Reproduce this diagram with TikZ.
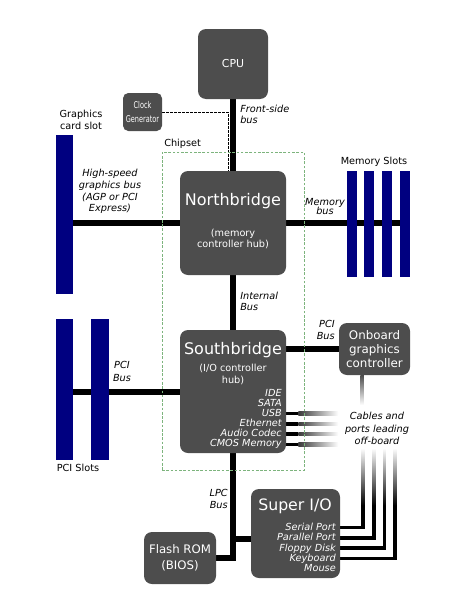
\documentclass[tikz,border=0pt]{standalone}
\usepackage{fontspec}
\setmainfont{DejaVu Sans}
\newfontfamily\condfont[FakeStretch=0.7]{DejaVu Sans}
\definecolor{boxgray}{RGB}{77,77,77}
\definecolor{slotblue}{RGB}{0,0,128}
\definecolor{chipgreen}{RGB}{125,180,125}
\pgfdeclarelayer{bg}
\pgfsetlayers{bg,main}
\begin{document}
\begin{tikzpicture}[x=0.75pt,y=-0.75pt,
 box/.style={fill=boxgray, rounded corners=6pt, inner sep=0pt, text=white},
 slot/.style={fill=slotblue, inner sep=0pt},
 bus/.style={line width=4.5pt},
 cable/.style={line width=2.6pt},
 boxtitle/.style={text=white, inner sep=0pt, font=\fontsize{12}{14}\selectfont},
 boxsub/.style={text=white, inner sep=0pt, align=center, font=\fontsize{7.3}{8.6}\selectfont},
 boxlist/.style={text=white, inner sep=0pt, align=right, font=\fontsize{7.3}{7.5}\selectfont\itshape},
 lbl/.style={inner sep=0pt, align=center, font=\fontsize{7.3}{8.6}\selectfont},
 ilbl/.style={inner sep=0pt, align=center, font=\fontsize{7.3}{8.8}\selectfont\itshape},
]
\useasboundingbox (0,0) rectangle (467,614);

% chipset frame
\node[draw=chipgreen, dashed, line width=0.6pt, dash pattern=on 2pt off 1.2pt, inner sep=0pt,
  minimum width=142*0.75pt, minimum height=318*0.75pt] (chip) at (233,311) {};
\node[lbl, anchor=west] (chiplbl) at (164,144) {Chipset};

% boxes
\node[box, minimum width=70*0.75pt, minimum height=70*0.75pt, font=\fontsize{8.2}{10}\selectfont] (cpu) at (233,64) {CPU};
\node[box, rounded corners=4pt, minimum width=39*0.75pt, minimum height=38*0.75pt, align=center,
  font=\condfont\fontsize{7}{9.8}\selectfont] (clk) at (142.5,112) {Clock\\Generator};
\node[box, minimum width=106*0.75pt, minimum height=104*0.75pt] (nb) at (233,223) {};
\node[box, minimum width=106*0.75pt, minimum height=123*0.75pt] (sb) at (233,391.5) {};
\node[box, minimum width=71*0.75pt, minimum height=52*0.75pt, align=center,
  font=\fontsize{8.9}{10.5}\selectfont] (og) at (374.5,349) {Onboard\\graphics\\controller};
\node[box, minimum width=72*0.75pt, minimum height=52*0.75pt, align=center,
  font=\fontsize{8.8}{12}\selectfont] (flash) at (180,558) {Flash ROM\\(BIOS)};
\node[box, minimum width=89*0.75pt, minimum height=89*0.75pt] (sio) at (295.5,533.5) {};

% slots
\node[slot, minimum width=17*0.75pt, minimum height=159*0.75pt] (gslot) at (64.5,214.5) {};
\foreach \n/\x in {1/352,2/369,3/387,4/404.5}
  \node[slot, minimum width=10*0.75pt, minimum height=106*0.75pt] (mem\n) at (\x,224) {};
\node[slot, minimum width=17*0.75pt, minimum height=141*0.75pt] (pci1) at (64.5,389.5) {};
\node[slot, minimum width=18*0.75pt, minimum height=141*0.75pt] (pci2) at (100,389.5) {};

% buses (behind boxes and slots)
\begin{pgfonlayer}{bg}
\coordinate (clkbend) at (228,112);
\draw[dashed, line width=0.6pt, dash pattern=on 2pt off 1pt] (clk.east) -- (clkbend) -- (clkbend |- nb.north);
\draw[bus] (cpu.south) -- (nb.north);
\draw[bus] (nb.south) -- (sb.north);
\draw[bus] (nb.west) -- (gslot.center |- nb.west);
\draw[bus] (nb.east) -- (mem4.center |- nb.east);
\draw[bus] (sb.west) -- (pci1.center |- sb.west);
\draw[bus] (og.west) -- (og.west -| sb.east);
\draw[bus] (sb.south) -- (sb.south |- flash.east) -- (flash.east);
\draw[bus] (sio.west |- 0,539) -- (sb.south |- 0,539);
% fading cables from southbridge
\foreach \y in {413.5,424,434,444.5} {
  \fill[black] (sb.east |- 0,\y) ++(-2,-1.75) rectangle ++(14,3.5);
  \shade[left color=black, right color=white] (sb.east |- 0,\y) ++(12,-1.75) rectangle ++(40,3.5);
}
% onboard graphics fading line
\shade[top color=boxgray, bottom color=white] (og.south -| 360.25,0) rectangle (363.75,405);
% super I/O cables
\foreach \y/\x in {527.5/363,538/374,548/384.5,558.5/395} {
  \draw[cable] (sio.east |- 0,\y) -- (\x,\y) -- (\x,505);
  \shade[top color=white, bottom color=black] (\x-1.3,448) rectangle (\x+1.3,505.5);
}
\end{pgfonlayer}

% box texts
\node[boxtitle] (nbt) at (233,201) {Northbridge};
\node[boxsub, font=\fontsize{7.3}{8.25}\selectfont] (nbs) at (233,238.5) {(memory\\controller hub)};
\node[boxtitle] (sbt) at (233,350) {Southbridge};
\node[boxsub, font=\fontsize{7.3}{9}\selectfont] (sbs) at (233,374) {(I/O controller\\hub)};
\node[boxlist, anchor=east] (sbl) at (282,419) {IDE\\SATA\\USB\\Ethernet\\Audio Codec\\CMOS Memory};
\node[boxtitle, font=\fontsize{11.8}{14}\selectfont] (siot) at (295,506) {Super I/O};
\node[boxlist, anchor=east, font=\fontsize{7.3}{7.7}\selectfont\itshape] (siol) at (336,547.5) {Serial Port\\Parallel Port\\Floppy Disk\\Keyboard\\Mouse};

% labels
\node[lbl] (gcs) at (81,120) {Graphics\\card slot};
\node[ilbl] (hsb) at (110,191.5) {High-speed\\graphics bus\\(AGP or PCI\\Express)};
\node[lbl] (mslots) at (374,162) {Memory Slots};
\node[ilbl, font=\fontsize{7.3}{7.3}\selectfont\itshape] (mbus) at (325,206.5) {Memory\\bus};
\node[ilbl, anchor=west, align=left] (fsb) at (240,114.5) {Front-side\\bus};
\node[ilbl, anchor=west, align=left] (ibus) at (240,301.5) {Internal\\Bus};
\node[ilbl, font=\fontsize{7.3}{9.8}\selectfont\itshape] (pcil) at (122,371) {PCI\\Bus};
\node[ilbl, anchor=east, align=right] (pcir) at (335,330) {PCI\\Bus};
\node[lbl] (pcislots) at (78,468) {PCI Slots};
\node[ilbl, font=\fontsize{7.3}{9.4}\selectfont\itshape] (cables) at (377,428.5) {Cables and\\ports leading\\off-board};
\node[ilbl, anchor=east, align=right] (lpc) at (228,499) {LPC\\Bus};
\end{tikzpicture}
\end{document}
